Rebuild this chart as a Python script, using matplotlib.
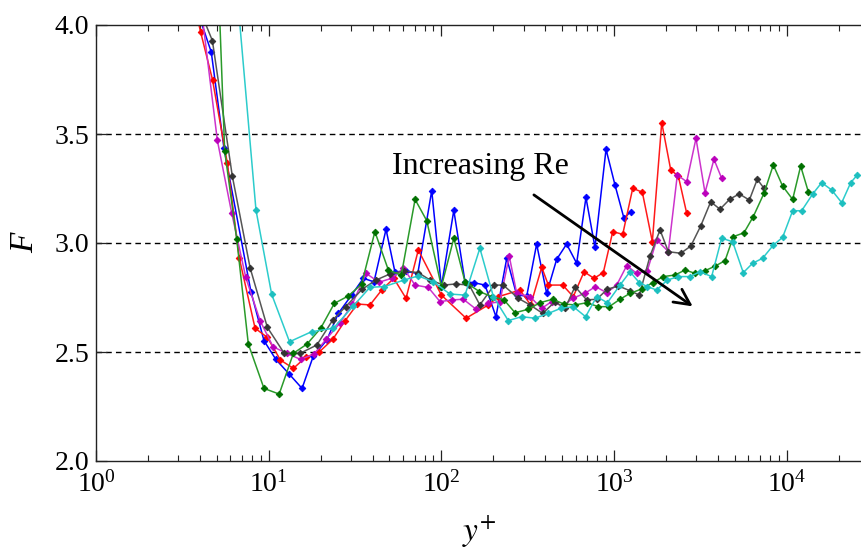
import matplotlib
matplotlib.use("Agg")
import matplotlib.pyplot as plt
import numpy as np
from matplotlib.ticker import LogLocator, FixedLocator, FormatStrFormatter, NullFormatter

plt.rcParams['font.family'] = ['Liberation Serif', 'DejaVu Serif']
plt.rcParams['mathtext.fontset'] = 'stix'

# ---------------- data (y+, F) ----------------
blue_x = [3.55, 4.65, 5.51, 7.89, 9.39, 11.0, 13.1, 15.6, 18.1, 21.7, 25.3, 30.2, 35.3, 40.7, 47.8, 53.8, 62, 73,
          87.9, 100, 118, 137, 154, 179, 207, 239, 273, 312, 356, 407, 465, 531, 607, 687, 775, 898, 1012, 1141, 1247]
blue_F = [4.15, 3.876, 3.434, 2.777, 2.552, 2.466, 2.40, 2.333, 2.48, 2.555, 2.677, 2.761, 2.838, 2.822, 3.063, 2.868,
          2.87, 2.86, 3.24, 2.80, 3.15, 2.822, 2.818, 2.807, 2.662, 2.93, 2.761, 2.757, 2.995, 2.769, 2.925, 2.995,
          2.907, 3.209, 2.98, 3.43, 3.266, 3.113, 3.144]

red_x = [3.5, 4.04, 4.73, 5.76, 6.76, 8.34, 9.82, 11.7, 13.9, 16.4, 19.6, 23.5, 27.5, 32.6, 38.6, 45.1, 53, 62.4,
         73.5, 100, 139, 187, 214, 285, 329, 381, 416, 504, 580, 670, 765, 866, 982, 1122, 1282, 1457, 1665, 1887,
         2128, 2355, 2633]
red_F = [4.18, 3.966, 3.748, 3.366, 2.930, 2.609, 2.567, 2.463, 2.425, 2.476, 2.50, 2.558, 2.64, 2.72, 2.716, 2.784,
         2.838, 2.746, 2.968, 2.761, 2.655, 2.716, 2.754, 2.784, 2.716, 2.889, 2.807, 2.807, 2.754, 2.868, 2.838,
         2.864, 3.052, 3.040, 3.251, 3.233, 3.006, 3.552, 3.335, 3.307, 3.136]

mag_x = [3.8, 5.04, 6.1, 7.36, 8.91, 10.6, 12.7, 15.3, 18.3, 21.5, 25.9, 30.5, 36.6, 43.5, 51.5, 60.3, 70.4, 84.0,
         98.2, 115, 134, 159, 187, 218, 247, 273, 326, 380, 435, 505, 575, 680, 780, 906, 1035, 1183, 1351, 1557,
         1764, 2061, 2323, 2633, 2980, 3360, 3787, 4196]
mag_F = [4.27, 3.472, 3.139, 2.843, 2.644, 2.524, 2.494, 2.466, 2.491, 2.558, 2.634, 2.72, 2.861, 2.82, 2.838, 2.884,
         2.807, 2.796, 2.731, 2.739, 2.742, 2.696, 2.723, 2.73, 2.94, 2.769, 2.754, 2.70, 2.731, 2.71, 2.746, 2.77,
         2.80, 2.772, 2.807, 2.896, 2.861, 2.873, 3.014, 2.961, 3.312, 3.281, 3.48, 3.231, 3.384, 3.297]

gray_x = [3.55, 4.72, 6.15, 7.80, 9.82, 12.3, 15.2, 19.0, 23.5, 27.9, 34.8, 41.8, 50.4, 61, 73.5, 86, 103, 121, 145,
          167, 202, 228, 279, 326, 386, 455, 520, 594, 694, 793, 914, 1059, 1236, 1400, 1614, 1845, 2061, 2432, 2780,
          3173, 3625, 4102, 4690, 5309, 6068, 6745, 7378]
gray_F = [4.17, 3.928, 3.309, 2.887, 2.613, 2.494, 2.494, 2.532, 2.647, 2.708, 2.788, 2.830, 2.858, 2.872, 2.864,
          2.83, 2.807, 2.812, 2.807, 2.716, 2.807, 2.807, 2.746, 2.716, 2.677, 2.731, 2.70, 2.80, 2.739, 2.742, 2.788,
          2.803, 2.781, 2.761, 2.940, 3.06, 2.960, 2.953, 2.986, 3.078, 3.189, 3.155, 3.202, 3.225, 3.197, 3.292, 3.251]

green_x = [5.0, 5.56, 6.53, 7.62, 9.39, 11.5, 13.9, 16.7, 20.0, 24.0, 28.9, 34.5, 41.2, 49.3, 58.6, 70.4, 82.3, 100,
           118, 137, 166, 196, 230, 267, 318, 372, 441, 512, 594, 694, 810, 937, 1082, 1236, 1444, 1673, 1926, 2252,
           2574, 2942, 3362, 3844, 4390, 4903, 5650, 6395, 7378, 8352, 9459, 10812, 12030, 13310]
green_F = [4.4, 3.423, 3.017, 2.537, 2.333, 2.307, 2.494, 2.537, 2.609, 2.723, 2.757, 2.811, 3.052, 2.876, 2.853,
           3.200, 3.102, 2.80, 3.022, 2.822, 2.777, 2.754, 2.74, 2.680, 2.696, 2.726, 2.742, 2.720, 2.716, 2.726,
           2.708, 2.708, 2.742, 2.769, 2.789, 2.818, 2.846, 2.853, 2.876, 2.861, 2.873, 2.894, 2.919, 3.029, 3.047,
           3.121, 3.228, 3.358, 3.261, 3.200, 3.353, 3.236]

cyan_x = [6.3, 8.44, 10.4, 13.2, 17.7, 23.7, 30.9, 38.6, 46.7, 60.7, 73.5, 89.8, 112, 137, 167, 200, 244, 291, 348,
          416, 490, 580, 684, 793, 914, 1082, 1236, 1400, 1560, 1764, 2033, 2355, 2750, 3142, 3671, 4196, 4855, 5598,
          6339, 7245, 8352, 9459, 10812, 12190, 14130, 15920, 18200, 20800, 23450, 25600]
cyan_F = [4.31, 3.151, 2.765, 2.547, 2.593, 2.609, 2.711, 2.797, 2.80, 2.830, 2.849, 2.822, 2.766, 2.761, 2.976,
          2.754, 2.644, 2.662, 2.655, 2.677, 2.70, 2.708, 2.662, 2.754, 2.726, 2.807, 2.868, 2.818, 2.80, 2.784,
          2.830, 2.846, 2.846, 2.868, 2.846, 3.022, 3.006, 2.864, 2.907, 2.93, 2.99, 3.026, 3.148, 3.148, 3.225,
          3.277, 3.243, 3.185, 3.277, 3.312]

yticks = [2.0, 2.5, 3.0, 3.5, 4.0]
grid_levels = [2.5, 3.0, 3.5]
annot_text = "Increasing Re"
annot_text_pos = (51.8, 3.317)
arrow_start = (333, 3.228)
arrow_end = (2940, 2.702)

# ---------------- figure ----------------
W, H = 862, 552
fig = plt.figure(figsize=(W / 100, H / 100), dpi=100)
left_px, right_px, top_px, bot_px = 96, 862, 25, 461
ax = fig.add_axes([left_px / W, 1 - bot_px / H, (right_px - left_px) / W, (bot_px - top_px) / H])

series = [
    (blue_x, blue_F, '#0000ff', '#0000ff'),
    (red_x, red_F, '#ff1a1a', '#ff0000'),
    (mag_x, mag_F, '#cc33cc', '#bb00bb'),
    (gray_x, gray_F, '#555555', '#333333'),
    (green_x, green_F, '#2a9a2a', '#007000'),
    (cyan_x, cyan_F, '#2ccccc', '#1cbfbf'),
]
for xs, fs, lc, mc in series:
    ax.plot(xs, fs, color=lc, lw=1.1, marker='D', markersize=3.4,
            markerfacecolor=mc, markeredgecolor=mc, markeredgewidth=0.6, clip_on=True)

for g in grid_levels:
    ax.axhline(g, color='k', lw=1.0, linestyle=(0, (4, 3)), zorder=0.5)

ax.set_xscale('log')
decade_px = 172.7
ax.set_xlim(1, 10 ** ((right_px - left_px) / decade_px))
ax.set_ylim(2.0, 4.0)

ax.xaxis.set_major_locator(LogLocator(base=10, numticks=10))
ax.xaxis.set_minor_locator(LogLocator(base=10, subs=np.arange(2, 10), numticks=20))
ax.xaxis.set_minor_formatter(NullFormatter())
ax.yaxis.set_major_locator(FixedLocator(yticks))
ax.yaxis.set_major_formatter(FormatStrFormatter('%.1f'))

ax.spines['right'].set_visible(False)
for s in ['left', 'bottom', 'top']:
    ax.spines[s].set_linewidth(1.0)
    ax.spines[s].set_color('#222222')

ax.tick_params(axis='both', which='major', direction='in', length=8, width=0.9,
               labelsize=20, top=True, right=False, color='#222222')
ax.tick_params(axis='x', which='minor', direction='in', length=4, width=0.8, top=True, color='#222222')
ax.tick_params(axis='x', which='major', pad=7)
ax.tick_params(axis='y', which='major', pad=5)

fig.text(25 / W, 1 - 243 / H, 'F', rotation=90, ha='center', va='center',
         fontsize=24, fontstyle='italic')
fig.text(479 / W, (H - 541) / H, r'$y^{+}$', ha='center', va='baseline', fontsize=24)

ax.text(annot_text_pos[0], annot_text_pos[1], annot_text, fontsize=23, va='baseline', ha='left')
ax.annotate('', xy=arrow_end, xytext=arrow_start,
            arrowprops=dict(arrowstyle='->', lw=2.0, color='k', mutation_scale=28))

fig.savefig('out.png', dpi=100)
